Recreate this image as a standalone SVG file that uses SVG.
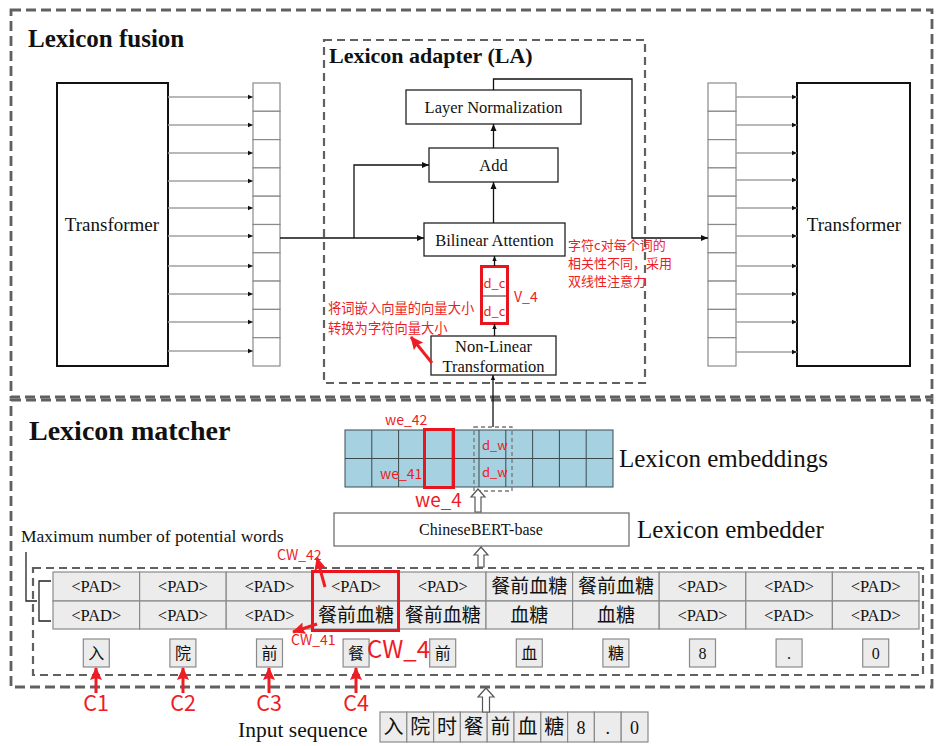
<svg xmlns="http://www.w3.org/2000/svg" width="942" height="746" viewBox="0 0 942 746">
<defs>
<marker id="ah" markerWidth="8" markerHeight="8" refX="7" refY="4" orient="auto" markerUnits="userSpaceOnUse"><path d="M0,1 L7,4 L0,7 Z" fill="#111"/></marker>
<marker id="ahs" markerWidth="6" markerHeight="6" refX="5" refY="3" orient="auto" markerUnits="userSpaceOnUse"><path d="M0,0.8 L5,3 L0,5.2 Z" fill="#111"/></marker>
<marker id="ahr" markerWidth="14" markerHeight="12" refX="12" refY="6" orient="auto" markerUnits="userSpaceOnUse"><path d="M0,0 L13,6 L0,12 L2,6 Z" fill="#ee1c25"/></marker>
</defs>
<style>
.dash{fill:none;stroke:#606060;stroke-width:2.8;stroke-dasharray:10 5}
.dash2{fill:none;stroke:#606060;stroke-width:2.2;stroke-dasharray:8 5}
.box{fill:#fff;stroke:#222;stroke-width:1.3}
.tbox{fill:#fff;stroke:#111;stroke-width:2}
.cell{fill:#fff;stroke:#8a8a8a;stroke-width:1.2}
.tc{fill:#ececec;stroke:#8a8a8a;stroke-width:1.2}
.ec{fill:#a5d1e0;stroke:#3c4a50;stroke-width:1}
.serif{font-family:"Liberation Serif","Times New Roman","Noto Sans CJK SC",serif;fill:#111}
.cjk{font-family:"Liberation Serif","Noto Sans CJK SC",serif;fill:#111}
.red{fill:#ee1c25;font-family:"Noto Sans CJK SC","Noto Sans",sans-serif}
.gl{stroke:#a0a0a0;stroke-width:1.3;fill:none;marker-end:url(#ahs)}
.bl{stroke:#111;stroke-width:1.3;fill:none}
.ra{stroke:#ee1c25;stroke-width:3;fill:none;marker-end:url(#ahr)}
.hollow{fill:#fff;stroke:#555;stroke-width:1.2}
.mid{text-anchor:middle}
</style>

<!-- Containers -->
<g id="lexicon-fusion">
<rect class="dash" x="11" y="10" width="921" height="387"/>
<text class="serif" x="28" y="47" font-size="25" font-weight="bold">Lexicon fusion</text>
</g>
<g id="lexicon-matcher">
<rect class="dash" x="11" y="400" width="921" height="287"/>
<text class="serif" x="29" y="440" font-size="28" font-weight="bold">Lexicon matcher</text>
</g>
<g id="lexicon-adapter">
<rect class="dash2" x="324" y="40" width="321" height="343"/>
<text class="serif" x="329" y="63" font-size="22" font-weight="bold">Lexicon adapter (LA)</text>
</g>

<!-- Left transformer -->
<g id="transformer-left">
<rect class="tbox" x="57" y="83" width="111" height="283"/>
<text class="serif mid" x="112" y="231" font-size="19">Transformer</text>
</g>
<g id="vector-left">
<rect class="cell" x="253" y="83" width="27" height="28.3"/>
<rect class="cell" x="253" y="111.3" width="27" height="28.3"/>
<rect class="cell" x="253" y="139.6" width="27" height="28.3"/>
<rect class="cell" x="253" y="167.9" width="27" height="28.3"/>
<rect class="cell" x="253" y="196.2" width="27" height="28.3"/>
<rect class="cell" x="253" y="224.5" width="27" height="28.3"/>
<rect class="cell" x="253" y="252.8" width="27" height="28.3"/>
<rect class="cell" x="253" y="281.1" width="27" height="28.3"/>
<rect class="cell" x="253" y="309.4" width="27" height="28.3"/>
<rect class="cell" x="253" y="337.7" width="27" height="28.3"/>
</g>
<g id="vector-right">
<rect class="cell" x="708" y="83" width="28" height="28.3"/>
<rect class="cell" x="708" y="111.3" width="28" height="28.3"/>
<rect class="cell" x="708" y="139.6" width="28" height="28.3"/>
<rect class="cell" x="708" y="167.9" width="28" height="28.3"/>
<rect class="cell" x="708" y="196.2" width="28" height="28.3"/>
<rect class="cell" x="708" y="224.5" width="28" height="28.3"/>
<rect class="cell" x="708" y="252.8" width="28" height="28.3"/>
<rect class="cell" x="708" y="281.1" width="28" height="28.3"/>
<rect class="cell" x="708" y="309.4" width="28" height="28.3"/>
<rect class="cell" x="708" y="337.7" width="28" height="28.3"/>
</g>
<g id="transformer-right">
<rect class="tbox" x="797" y="83" width="113" height="283"/>
<text class="serif mid" x="854" y="231" font-size="19">Transformer</text>
</g>

<!-- LA nodes -->
<g id="layer-norm">
<rect class="box" x="406" y="90" width="175" height="34"/>
<text class="serif mid" x="493.5" y="112.5" font-size="16.5">Layer Normalization</text>
</g>
<g id="add">
<rect class="box" x="429" y="148" width="129" height="34"/>
<text class="serif mid" x="493.5" y="171" font-size="16.5">Add</text>
</g>
<g id="bilinear-attention">
<rect class="box" x="424" y="223" width="141" height="33"/>
<text class="serif mid" x="494.5" y="245.5" font-size="16.5">Bilinear Attention</text>
</g>
<g id="v4">
<rect x="481.5" y="266.5" width="26" height="57" fill="#fff" stroke="#e8141e" stroke-width="3"/>
<line x1="483" y1="296" x2="506" y2="296" stroke="#333" stroke-width="1"/>
<text class="red mid" x="494.5" y="288" font-size="13">d_c</text>
<text class="red mid" x="494.5" y="316" font-size="13">d_c</text>
<text class="red" x="514" y="302" font-size="14">V_4</text>
</g>
<g id="non-linear">
<rect class="box" x="431" y="336" width="125" height="39"/>
<text class="serif mid" x="493.5" y="351.5" font-size="16.5">Non-Linear</text>
<text class="serif mid" x="493.5" y="371.5" font-size="16.5">Transformation</text>
</g>

<!-- Matcher nodes -->
<g id="lexicon-embeddings">
<rect class="ec" x="345" y="430" width="268" height="57"/>
<path d="M371.8,430V487M398.6,430V487M425.4,430V487M452.2,430V487M479,430V487M505.8,430V487M532.6,430V487M559.4,430V487M586.2,430V487M345,458.5H613" stroke="#3c4a50" stroke-width="1" fill="none"/>
<rect x="424.5" y="429.5" width="29" height="58" fill="none" stroke="#e8141e" stroke-width="3"/>
<rect x="474" y="427" width="38" height="64" fill="none" stroke="#777" stroke-width="1.3" stroke-dasharray="4 3"/>
<text class="red" x="482" y="450" font-size="13">d_w</text>
<text class="red" x="482" y="477" font-size="13">d_w</text>
<text class="red" x="385" y="425" font-size="14">we_42</text>
<text class="red" x="380" y="479" font-size="14">we_41</text>
<text class="red" x="415" y="507" font-size="19">we_4</text>
<text class="serif" x="619" y="467" font-size="25">Lexicon embeddings</text>
</g>
<g id="chinesebert">
<rect x="334" y="513" width="295" height="33" fill="#fff" stroke="#666" stroke-width="1.2"/>
<text class="serif mid" x="481" y="535" font-size="16">ChineseBERT-base</text>
<text class="serif" x="637" y="538" font-size="25">Lexicon embedder</text>
</g>

<g id="potential-words">
<text class="serif" x="21" y="542" font-size="17.5">Maximum number of potential words</text>
<path d="M26,552V601H37M51,581H39V621H51" stroke="#222" stroke-width="1.3" fill="none"/>
<rect class="dash2" x="33" y="568" width="890" height="107" stroke-width="2"/>
</g>

<g id="word-table">
<rect class="tc" x="53" y="572" width="86.6" height="29"/><rect class="tc" x="139.6" y="572" width="86.6" height="29"/><rect class="tc" x="226.2" y="572" width="86.6" height="29"/><rect class="tc" x="312.8" y="572" width="86.6" height="29"/><rect class="tc" x="399.4" y="572" width="86.6" height="29"/><rect class="tc" x="486" y="572" width="86.6" height="29"/><rect class="tc" x="572.6" y="572" width="86.6" height="29"/><rect class="tc" x="659.2" y="572" width="86.6" height="29"/><rect class="tc" x="745.8" y="572" width="86.6" height="29"/><rect class="tc" x="832.4" y="572" width="86.6" height="29"/>
<rect class="tc" x="53" y="601" width="86.6" height="28"/><rect class="tc" x="139.6" y="601" width="86.6" height="28"/><rect class="tc" x="226.2" y="601" width="86.6" height="28"/><rect class="tc" x="312.8" y="601" width="86.6" height="28"/><rect class="tc" x="399.4" y="601" width="86.6" height="28"/><rect class="tc" x="486" y="601" width="86.6" height="28" fill="#f4f4f4"/><rect class="tc" x="572.6" y="601" width="86.6" height="28" fill="#f4f4f4"/><rect class="tc" x="659.2" y="601" width="86.6" height="28"/><rect class="tc" x="745.8" y="601" width="86.6" height="28"/><rect class="tc" x="832.4" y="601" width="86.6" height="28"/>
<g class="serif mid" font-size="16.5">
<text x="96.3" y="592">&lt;PAD&gt;</text><text x="182.9" y="592">&lt;PAD&gt;</text><text x="269.5" y="592">&lt;PAD&gt;</text><text x="356.1" y="592">&lt;PAD&gt;</text><text x="442.7" y="592">&lt;PAD&gt;</text><text x="702.5" y="592">&lt;PAD&gt;</text><text x="789.1" y="592">&lt;PAD&gt;</text><text x="875.7" y="592">&lt;PAD&gt;</text>
<text x="96.3" y="621">&lt;PAD&gt;</text><text x="182.9" y="621">&lt;PAD&gt;</text><text x="269.5" y="621">&lt;PAD&gt;</text><text x="702.5" y="621">&lt;PAD&gt;</text><text x="789.1" y="621">&lt;PAD&gt;</text><text x="875.7" y="621">&lt;PAD&gt;</text>
</g>
<g class="cjk mid" font-size="19">
<text x="529.3" y="593">餐前血糖</text><text x="615.9" y="593">餐前血糖</text>
<text x="356.1" y="622">餐前血糖</text><text x="442.7" y="622">餐前血糖</text><text x="529.3" y="622">血糖</text><text x="615.9" y="622">血糖</text>
</g>
<rect x="312.5" y="571.5" width="86" height="59" fill="none" stroke="#e8141e" stroke-width="3"/>
</g>

<g id="char-boxes">
<rect class="tc" x="83.3" y="639" width="26" height="28"/><rect class="tc" x="169.9" y="639" width="26" height="28"/><rect class="tc" x="256.5" y="639" width="26" height="28"/><rect class="tc" x="343.1" y="639" width="26" height="28"/><rect class="tc" x="429.7" y="639" width="26" height="28"/><rect class="tc" x="516.3" y="639" width="26" height="28"/><rect class="tc" x="602.9" y="639" width="26" height="28"/><rect class="tc" x="689.5" y="639" width="26" height="28"/><rect class="tc" x="776.1" y="639" width="26" height="28"/><rect class="tc" x="862.7" y="639" width="26" height="28"/>
<g class="cjk mid" font-size="16">
<text x="96.3" y="659">入</text><text x="182.9" y="659">院</text><text x="269.5" y="659">前</text><text x="356.1" y="659">餐</text><text x="442.7" y="659">前</text><text x="529.3" y="659">血</text><text x="615.9" y="659">糖</text><text x="702.5" y="659">8</text><text x="789.1" y="659">.</text><text x="875.7" y="659">0</text>
</g>
</g>

<g id="input-sequence">
<text class="serif" x="238" y="737" font-size="21.5">Input sequence</text>
<rect class="tc" x="380" y="712" width="26.8" height="30"/><rect class="tc" x="406.8" y="712" width="26.8" height="30"/><rect class="tc" x="433.6" y="712" width="26.8" height="30"/><rect class="tc" x="460.4" y="712" width="26.8" height="30"/><rect class="tc" x="487.2" y="712" width="26.8" height="30"/><rect class="tc" x="514" y="712" width="26.8" height="30"/><rect class="tc" x="540.8" y="712" width="26.8" height="30"/><rect class="tc" x="567.6" y="712" width="26.8" height="30"/><rect class="tc" x="594.4" y="712" width="26.8" height="30"/><rect class="tc" x="621.2" y="712" width="26.8" height="30"/>
<g class="cjk mid" font-size="20">
<text x="393.4" y="734">入</text><text x="420.2" y="734">院</text><text x="447" y="734">时</text><text x="473.8" y="734">餐</text><text x="500.6" y="734">前</text><text x="527.4" y="734">血</text><text x="554.2" y="734">糖</text><text x="581" y="734" font-size="18">8</text><text x="607.8" y="734" font-size="18">.</text><text x="634.6" y="734" font-size="18">0</text>
</g>
</g>

<!-- Annotations -->
<g id="annotations">
<text class="red" x="568" y="250" font-size="13">字符c对每个词的</text>
<text class="red" x="568" y="268" font-size="13">相关性不同，采用</text>
<text class="red" x="568" y="286" font-size="13">双线性注意力</text>
<text class="red" x="328" y="313" font-size="13.3">将词嵌入向量的向量大小</text>
<text class="red" x="328" y="333" font-size="13.3">转换为字符向量大小</text>
<text class="red" x="277" y="560" font-size="14">CW_42</text>
<text class="red" x="291" y="645" font-size="14">CW_41</text>
<text class="red" x="367" y="658" font-size="24">CW_4</text>
<text class="red mid" x="96" y="711" font-size="21.5">C1</text>
<text class="red mid" x="183" y="711" font-size="21.5">C2</text>
<text class="red mid" x="269" y="711" font-size="21.5">C3</text>
<text class="red mid" x="356" y="711" font-size="21.5">C4</text>
</g>

<!-- Connectors -->
<g id="connectors">
<line class="gl" x1="168" y1="97" x2="253" y2="97"/><line class="gl" x1="168" y1="125" x2="253" y2="125"/><line class="gl" x1="168" y1="153" x2="253" y2="153"/><line class="gl" x1="168" y1="181" x2="253" y2="181"/><line class="gl" x1="168" y1="208" x2="253" y2="208"/><line class="gl" x1="168" y1="236" x2="253" y2="236"/><line class="gl" x1="168" y1="266" x2="253" y2="266"/><line class="gl" x1="168" y1="294" x2="253" y2="294"/><line class="gl" x1="168" y1="322" x2="253" y2="322"/><line class="gl" x1="168" y1="351" x2="253" y2="351"/>
<line class="gl" x1="736" y1="97" x2="797" y2="97"/><line class="gl" x1="736" y1="125" x2="797" y2="125"/><line class="gl" x1="736" y1="153" x2="797" y2="153"/><line class="gl" x1="736" y1="180" x2="797" y2="180"/><line class="gl" x1="736" y1="208" x2="797" y2="208"/><line class="gl" x1="736" y1="236" x2="797" y2="236"/><line class="gl" x1="736" y1="266" x2="797" y2="266"/><line class="gl" x1="736" y1="294" x2="797" y2="294"/><line class="gl" x1="736" y1="322" x2="797" y2="322"/><line class="gl" x1="736" y1="352" x2="797" y2="352"/>
<path class="bl" d="M280,238H424" marker-end="url(#ah)"/>
<path class="bl" d="M354,238V165H429" marker-end="url(#ah)"/>
<path class="bl" d="M493.5,223V182" marker-end="url(#ah)"/>
<path class="bl" d="M493.5,148V124" marker-end="url(#ah)"/>
<path class="bl" d="M493.5,90V79H632V238H708" marker-end="url(#ah)"/>
<path class="bl" d="M494.5,266V256" marker-end="url(#ahs)"/>
<path class="bl" d="M494.5,336V324" marker-end="url(#ahs)"/>
<path class="bl" d="M493,427V375" marker-end="url(#ahs)"/>
<path class="hollow" d="M478,489L485,497H481V512H475V497H471Z"/>
<path class="hollow" d="M481,547L488,555H484V567H478V555H474Z"/>
<path class="hollow" d="M486,688L494,697H489.5V712H482.5V697H478Z"/>
<line class="ra" x1="432" y1="363" x2="411" y2="337"/>
<line class="ra" x1="325" y1="587" x2="317" y2="558"/>
<line class="ra" x1="317" y1="624" x2="293" y2="632"/>
<line class="ra" x1="96" y1="693" x2="96" y2="668"/>
<line class="ra" x1="183" y1="693" x2="183" y2="668"/>
<line class="ra" x1="269" y1="693" x2="269" y2="668"/>
<line class="ra" x1="356" y1="693" x2="356" y2="668"/>
</g>
</svg>
